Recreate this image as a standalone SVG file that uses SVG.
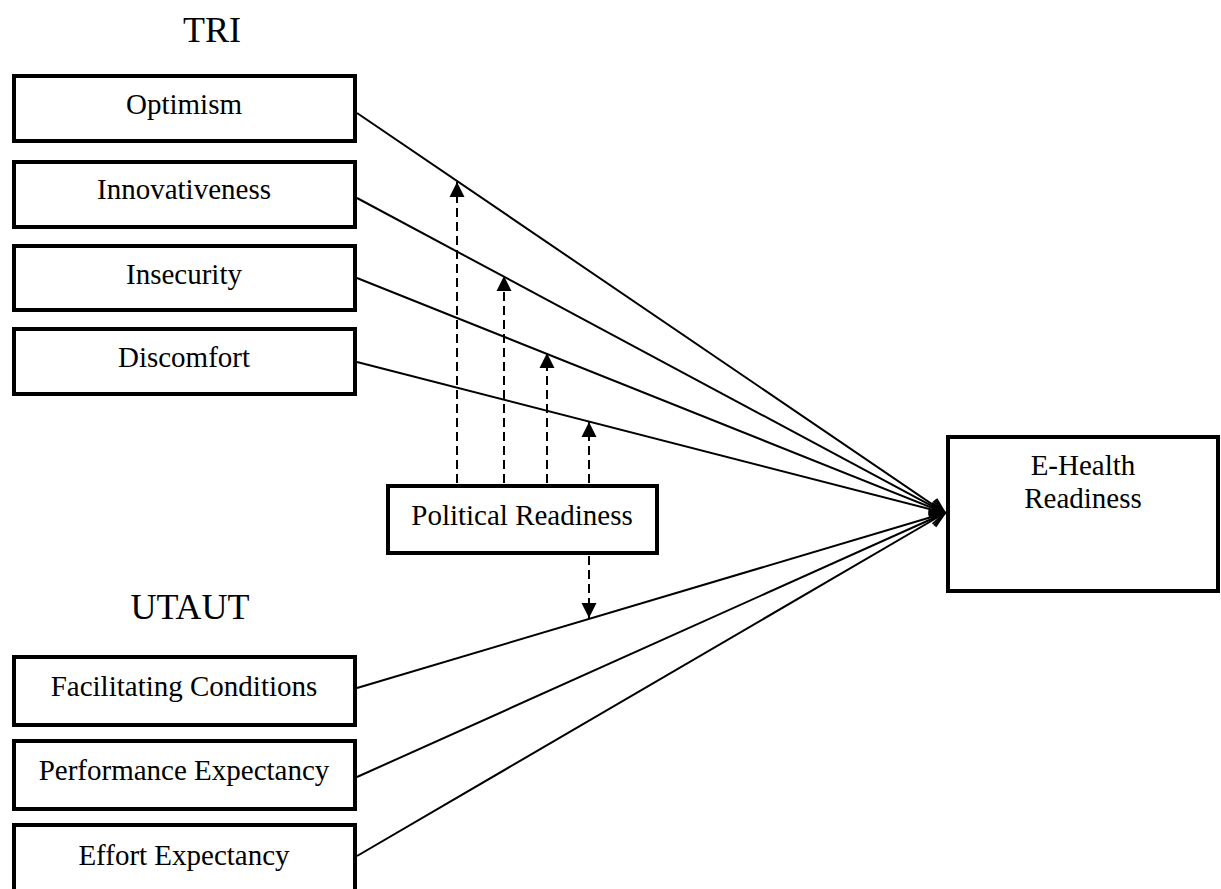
<svg xmlns="http://www.w3.org/2000/svg" width="1221" height="889" viewBox="0 0 1221 889">
<style>
.box{fill:#fff;stroke:#000;stroke-width:4}
.t{font-family:"Liberation Serif","Times New Roman",serif;font-size:29px;fill:#000;text-anchor:middle}
.title{font-family:"Liberation Serif","Times New Roman",serif;font-size:36px;fill:#000;text-anchor:middle}
.ln{stroke:#000;stroke-width:2;fill:none}
.dash{stroke:#000;stroke-width:2;fill:none;stroke-dasharray:9 5}
</style>
<defs>
<marker id="open" markerUnits="userSpaceOnUse" markerWidth="24" markerHeight="24" viewBox="-20 -12 24 24" refX="0" refY="0" orient="auto">
<path d="M-15,-7 L0,0 L-15,7" fill="none" stroke="#000" stroke-width="2"/>
</marker>
<marker id="solid" markerUnits="userSpaceOnUse" markerWidth="20" markerHeight="20" viewBox="-18 -10 20 20" refX="0" refY="0" orient="auto">
<path d="M-15,-7.5 L0,0 L-15,7.5 Z" fill="#000"/>
</marker>
</defs>
<rect width="1221" height="889" fill="#fff"/>
<text class="title" x="212" y="42">TRI</text>
<text class="title" x="190" y="619">UTAUT</text>
<g id="connectors">
<line class="ln" x1="357" y1="113" x2="945" y2="513" marker-end="url(#open)"/>
<line class="ln" x1="357" y1="198" x2="945" y2="513" marker-end="url(#open)"/>
<line class="ln" x1="357" y1="278" x2="945" y2="513" marker-end="url(#open)"/>
<line class="ln" x1="357" y1="362" x2="945" y2="513" marker-end="url(#open)"/>
<line class="ln" x1="357" y1="688" x2="945" y2="513" marker-end="url(#open)"/>
<line class="ln" x1="357" y1="777" x2="945" y2="513" marker-end="url(#open)"/>
<line class="ln" x1="357" y1="856" x2="945" y2="513" marker-end="url(#open)"/>
<line class="dash" x1="457" y1="483" x2="457" y2="182" marker-end="url(#solid)"/>
<line class="dash" x1="504" y1="483" x2="504" y2="276" marker-end="url(#solid)"/>
<line class="dash" x1="547" y1="483" x2="547" y2="353" marker-end="url(#solid)"/>
<line class="dash" x1="589" y1="483" x2="589" y2="422" marker-end="url(#solid)"/>
<line class="dash" x1="589" y1="556" x2="589" y2="618" marker-end="url(#solid)"/>
</g>
<g id="optimism"><rect class="box" x="14" y="76" width="341" height="65"/><text class="t" x="184" y="114">Optimism</text></g>
<g id="innovativeness"><rect class="box" x="14" y="162" width="341" height="65"/><text class="t" x="184" y="199">Innovativeness</text></g>
<g id="insecurity"><rect class="box" x="14" y="246" width="341" height="64"/><text class="t" x="184" y="284">Insecurity</text></g>
<g id="discomfort"><rect class="box" x="14" y="329" width="341" height="65"/><text class="t" x="184" y="367">Discomfort</text></g>
<g id="political-readiness"><rect class="box" x="388" y="486" width="269" height="67"/><text class="t" x="522" y="525">Political Readiness</text></g>
<g id="ehealth-readiness"><rect class="box" x="948" y="437" width="270" height="154"/><text class="t" x="1083" y="475">E-Health</text><text class="t" x="1083" y="508">Readiness</text></g>
<g id="facilitating-conditions"><rect class="box" x="14" y="657" width="341" height="68"/><text class="t" x="184" y="696">Facilitating Conditions</text></g>
<g id="performance-expectancy"><rect class="box" x="14" y="741" width="341" height="68"/><text class="t" x="184" y="780">Performance Expectancy</text></g>
<g id="effort-expectancy"><rect class="box" x="14" y="825" width="341" height="80"/><text class="t" x="184" y="865">Effort Expectancy</text></g>
</svg>
